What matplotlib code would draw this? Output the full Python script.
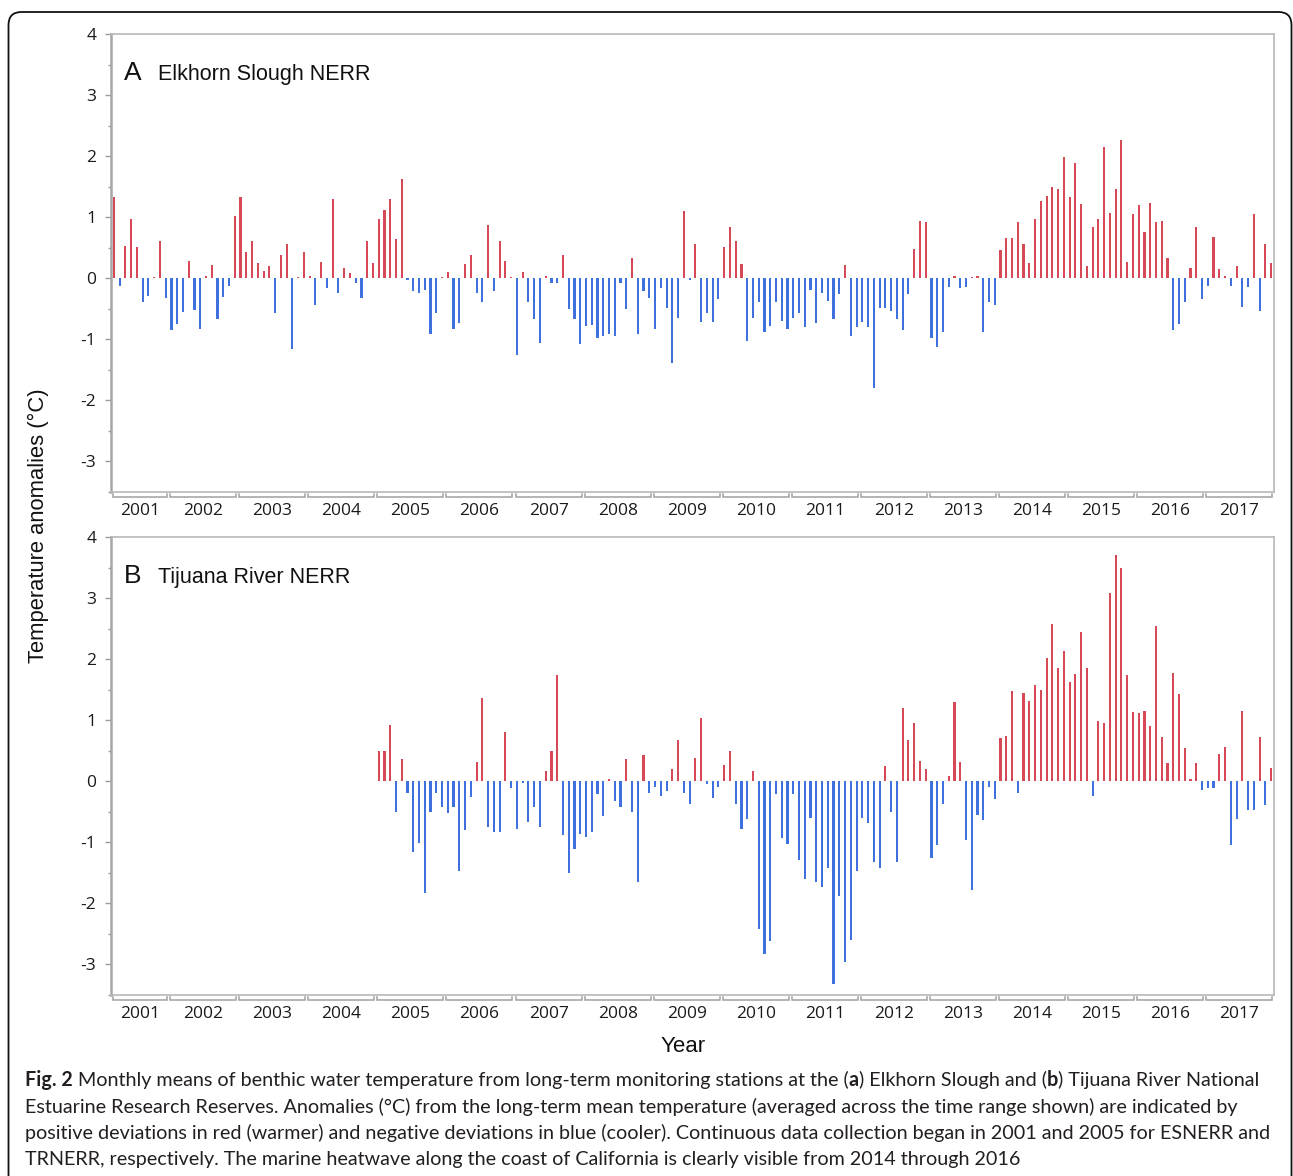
import numpy as np
import matplotlib.pyplot as plt
from matplotlib.patches import FancyBboxPatch
from matplotlib.transforms import blended_transform_factory

plt.rcParams["axes.unicode_minus"] = False

# monthly anomalies (deg C), Elkhorn Slough starts Mar 2001
elkhorn_start = (2001, 3)
elkhorn = [
    1.33, -0.13, 0.53, 0.96, 0.51, -0.39, -0.29, 0.02, 0.61, -0.32,                    # 2001
    -0.85, -0.75, -0.55, 0.28, -0.52, -0.83, 0.04, 0.22, -0.67, -0.31, -0.13, 1.02,      # 2002
    1.32, 0.42, 0.61, 0.25, 0.12, 0.19, -0.57, 0.38, 0.55, -1.16, 0.01, 0.42,            # 2003
    0.04, -0.44, 0.27, -0.16, 1.30, -0.24, 0.17, 0.09, -0.08, -0.32, 0.61, 0.25,         # 2004
    0.97, 1.12, 1.30, 0.64, 1.63, -0.03, -0.22, -0.24, -0.19, -0.91, -0.57, 0.02,        # 2005
    0.10, -0.83, -0.73, 0.23, 0.37, -0.24, -0.39, 0.87, -0.21, 0.61, 0.28, 0.01,         # 2006
    -1.26, 0.10, -0.39, -0.68, -1.06, 0.04, -0.09, -0.08, 0.38, -0.50, -0.67, -1.09,     # 2007
    -0.78, -0.77, -0.98, -0.95, -0.91, -0.95, -0.09, -0.50, 0.32, -0.91, -0.22, -0.32,   # 2008
    -0.83, -0.17, -0.49, -1.40, -0.65, 1.10, -0.03, 0.56, -0.72, -0.57, -0.72, -0.34,    # 2009
    0.51, 0.84, 0.61, 0.23, -1.03, -0.65, -0.40, -0.88, -0.78, -0.40, -0.70, -0.83,      # 2010
    -0.65, -0.57, -0.81, -0.19, -0.73, -0.24, -0.37, -0.68, -0.27, 0.22, -0.95, -0.81,   # 2011
    -0.72, -0.80, -1.80, -0.49, -0.49, -0.54, -0.68, -0.86, -0.26, 0.48, 0.94, 0.91,     # 2012
    -0.99, -1.13, -0.88, -0.14, 0.04, -0.17, -0.14, 0.01, 0.04, -0.88, -0.39, -0.45,     # 2013
    0.46, 0.66, 0.66, 0.92, 0.56, 0.25, 0.96, 1.27, 1.35, 1.50, 1.46, 1.99,              # 2014
    1.33, 1.89, 1.22, 0.19, 0.83, 0.97, 2.14, 1.07, 1.46, 2.27, 0.27, 1.05,              # 2015
    1.19, 0.76, 1.23, 0.91, 0.94, 0.33, -0.86, -0.75, -0.40, 0.17, 0.84, -0.34,          # 2016
    -0.13, 0.68, 0.15, 0.04, -0.13, 0.20, -0.47, -0.14, 1.05, -0.54, 0.55, 0.25,         # 2017
]

# Tijuana River starts Jan 2005
tijuana_start = (2005, 1)
tijuana = [
    0.50, 0.50, 0.91, -0.50, 0.36, -0.19, -1.17, -1.02, -1.83, -0.51, -0.20, -0.42,      # 2005
    -0.53, -0.43, -1.48, -0.81, -0.27, 0.31, 1.36, -0.76, -0.84, -0.83, 0.81, -0.12,     # 2006
    -0.78, -0.04, -0.68, -0.42, -0.76, 0.16, 0.49, 1.73, -0.89, -1.50, -1.12, -0.87,     # 2007
    -0.91, -0.84, -0.22, -0.58, 0.04, -0.33, -0.42, 0.36, -0.51, -1.66, 0.42, -0.20,     # 2008
    -0.10, -0.25, -0.17, 0.19, 0.67, -0.19, -0.38, 0.37, 1.03, -0.05, -0.28, -0.10,      # 2009
    0.27, 0.49, -0.37, -0.78, -0.63, 0.17, -2.42, -2.83, -2.63, -0.22, -0.94, -1.04,     # 2010
    -0.22, -1.30, -1.60, -0.60, -1.66, -1.73, -1.42, -3.32, -1.89, -2.96, -2.61, -1.48,  # 2011
    -0.61, -0.69, -1.32, -1.42, 0.24, -0.51, -1.32, 1.19, 0.68, 0.95, 0.32, 0.19,        # 2012
    -1.27, -1.05, -0.38, 0.08, 1.29, 0.31, -0.97, -1.78, -0.56, -0.64, -0.10, -0.30,     # 2013
    0.70, 0.73, 1.47, -0.20, 1.45, 1.31, 1.57, 1.50, 2.01, 2.58, 1.86, 2.13,             # 2014
    1.63, 1.75, 2.44, 1.85, -0.25, 0.98, 0.95, 3.09, 3.70, 3.50, 1.73, 1.13,             # 2015
    1.11, 1.14, 0.90, 2.54, 0.72, 0.29, 1.77, 1.42, 0.54, 0.04, 0.29, -0.15,             # 2016
    -0.12, -0.12, 0.44, 0.55, -1.05, -0.63, 1.14, -0.48, -0.48, 0.72, -0.40, 0.21,       # 2017
]

years = list(range(2001, 2018))
panel_letters = ["A", "B"]
panel_names = ["Elkhorn Slough NERR", "Tijuana River NERR"]

RED = "#d64a57"
BLUE = "#3e70de"
W, H = 1293, 1176
TICKFONT = ["Open Sans", "Noto Sans", "DejaVu Sans"]
ARIAL = ["Liberation Sans", "DejaVu Sans"]

fig = plt.figure(figsize=(W / 100, H / 100), dpi=100)

# outer rounded frame
frame = FancyBboxPatch((0.085, -0.5), 12.83, 12.14,
                       boxstyle="round,pad=0,rounding_size=0.13",
                       transform=fig.dpi_scale_trans, fill=False,
                       edgecolor="#111111", linewidth=1.3, clip_on=False)
fig.patches.append(frame)

xmin = 2001 + 2 / 12
xmax = 2018


def month_x(start, n):
    y0, m0 = start
    return np.array([y0 + (m0 - 1 + i + 0.5) / 12 for i in range(n)])


ax_tops = [34, 537]
for i, (start, vals) in enumerate([(elkhorn_start, elkhorn), (tijuana_start, tijuana)]):
    top = ax_tops[i]
    h = 457.5
    ax = fig.add_axes([111 / W, 1 - (top + h) / H, (1274 - 111) / W, h / H])
    x = month_x(start, len(vals))
    v = np.array(vals)
    cols = [RED if val >= 0 else BLUE for val in v]
    ax.bar(x, v, width=0.031, color=cols, linewidth=0)
    ax.set_xlim(xmin, xmax)
    ax.set_ylim(-3.5, 4)
    ax.set_yticks(range(-3, 5))
    ax.set_yticks(np.arange(-3.5, 4.01, 0.5), minor=True)
    ax.set_xticks([])
    ax.tick_params(axis="y", which="major", length=4.5, width=1, color="#9a9a9a",
                   pad=6, labelsize=12.5, labelcolor="#1a1a1a")
    ax.tick_params(axis="y", which="minor", length=2.5, width=1, color="#9a9a9a")
    for lab in ax.get_yticklabels():
        lab.set_fontfamily(TICKFONT)
    for s in ["top", "right", "bottom"]:
        ax.spines[s].set_color("#b8b8b8")
        ax.spines[s].set_linewidth(1.2)
    ax.spines["left"].set_color("#a6a6a6")
    ax.spines["left"].set_linewidth(1.8)

    # panel label
    ax.text(2001.35, 3.25, panel_letters[i], fontsize=19, family=ARIAL, color="#111111")
    ax.text(2001.85, 3.25, panel_names[i], fontsize=15.5, family=ARIAL, color="#111111")

    # year brackets under the axis
    tr = blended_transform_factory(ax.transData, ax.transAxes)
    gap = 0.022
    yb = -0.011
    for yr in years:
        x0 = max(yr, xmin) + gap
        x1 = yr + 1 - gap
        ax.plot([x0, x0, x1, x1], [yb + 0.005, yb, yb, yb + 0.005], color="#a0a0a0",
                linewidth=1.1, transform=tr, clip_on=False, solid_joinstyle="miter")
        ax.text((x0 + x1) / 2, -0.043, str(yr), transform=tr, ha="center", va="center",
                fontsize=12.5, family=TICKFONT, color="#1a1a1a")

fig.text(38 / W, 1 - 526 / H, "Temperature anomalies (°C)", rotation=90,
         ha="center", va="center", fontsize=15.8, family=ARIAL, color="#111111")
fig.text(683 / W, 1 - 1047 / H, "Year", ha="center", va="center", fontsize=16,
         family=ARIAL, color="#111111")

# caption
cap_lines = [
    [("Fig. 2", "bold"),
     (" Monthly means of benthic water temperature from long-term monitoring stations at the (", "normal"),
     ("a", "bold"), (") Elkhorn Slough and (", "normal"), ("b", "bold"),
     (") Tijuana River National", "normal")],
    [("Estuarine Research Reserves. Anomalies (°C) from the long-term mean temperature "
      "(averaged across the time range shown) are indicated by", "normal")],
    [("positive deviations in red (warmer) and negative deviations in blue (cooler). "
      "Continuous data collection began in 2001 and 2005 for ESNERR and", "normal")],
    [("TRNERR, respectively. The marine heatwave along the coast of California is "
      "clearly visible from 2014 through 2016", "normal")],
]
cap_y = [1080, 1107, 1133, 1160]
cap_family = ["Liberation Sans Narrow", "Lato", "DejaVu Sans"]
renderer = fig.canvas.get_renderer()


def text_w(s, size, weight):
    t = fig.text(0, 0, "|" + s + "|", fontsize=size, fontweight=weight, family=cap_family)
    w = t.get_window_extent(renderer).width
    t.remove()
    t = fig.text(0, 0, "||", fontsize=size, fontweight=weight, family=cap_family)
    w -= t.get_window_extent(renderer).width
    t.remove()
    return w


base = 14.0
w1 = sum(text_w(s, base, wt) for s, wt in cap_lines[0])
cap_size = base * 1243 / w1

for runs, yy in zip(cap_lines, cap_y):
    xx = 25
    for s, wt in runs:
        fig.text(xx / W, 1 - yy / H, s, fontsize=cap_size, fontweight=wt,
                 family=cap_family, va="center", ha="left", color="#231f20")
        xx += text_w(s, cap_size, wt)

fig.savefig("out.png", dpi=100)
